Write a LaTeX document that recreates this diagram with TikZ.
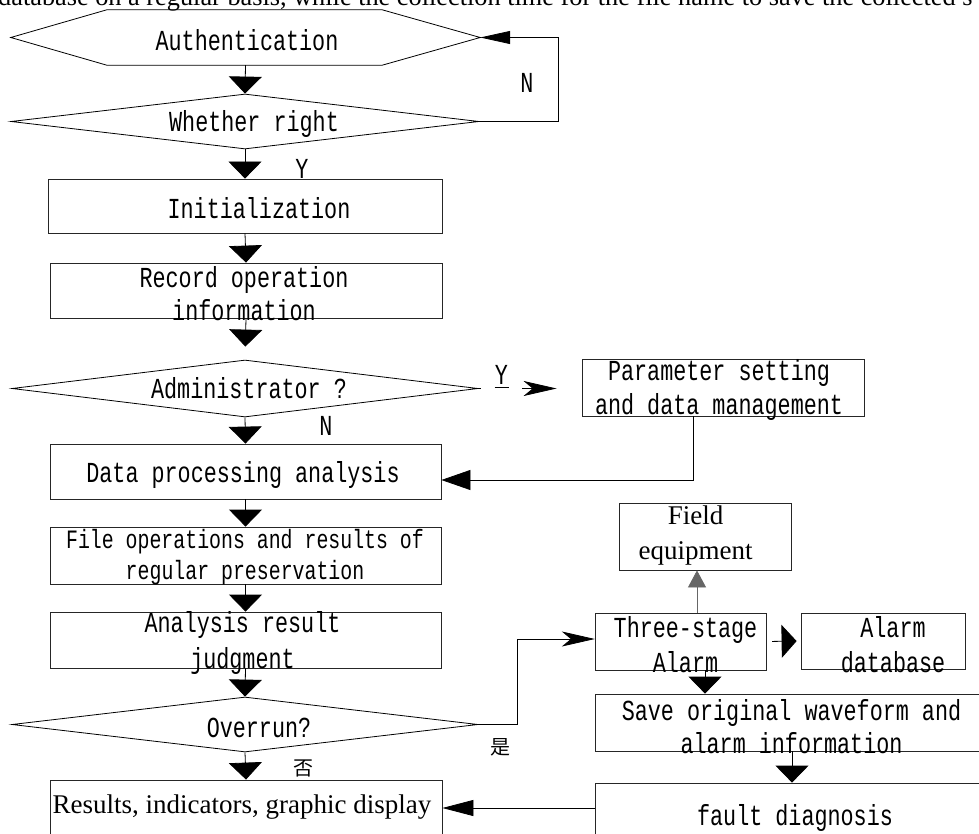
\documentclass[tikz,border=0pt]{standalone}
\usepackage{fontspec}
\setmainfont{Liberation Serif}
\newfontfamily\monof[FakeStretch=0.75]{Liberation Mono}
\newfontfamily\cjkf{Noto Sans CJK SC}
\usetikzlibrary{arrows.meta,shapes.geometric}
\begin{document}
\begin{tikzpicture}[x=1pt,y=-1pt,
  boxs/.style={draw=black!85, line width=0.8pt, rectangle, inner sep=0pt},
  decision/.style={draw=black, line width=0.8pt, diamond, inner sep=0pt},
  mtxt/.style={font=\monof\fontsize{29}{34}\selectfont, align=center, inner sep=0pt},
  stxt/.style={font=\fontsize{27}{35}\selectfont, align=center, inner sep=0pt},
  ctxt/.style={font=\cjkf\fontsize{20}{22}\selectfont, inner sep=0pt},
  conn/.style={line width=0.8pt, draw=black},
  wide/.style={conn, -{Triangle[length=17pt,width=33pt]}},
  loopar/.style={conn, -{Triangle[length=30pt,width=13pt]}},
  backar/.style={conn, -{Triangle[length=29pt,width=20pt]}},
  resar/.style={conn, -{Triangle[length=31pt,width=16pt]}},
  stl/.style={conn, -{Stealth[length=33pt,width=15pt,inset=9pt]}},
  upar/.style={line width=0.8pt, draw=black!60, -{Triangle[length=17pt,width=18pt]}},
  sidear/.style={conn, -{Triangle[length=15pt,width=33pt]}}
]
\useasboundingbox (0,0) rectangle (979,834);
\clip (0,0) rectangle (979,834);

% cropped caption line at the top
\node[font=\fontsize{26.3}{30}\selectfont, anchor=base west, inner sep=0pt] (cap) at (-2,6)
  {database on a regular basis, while the collection time for the file name to save the collected s};

% hexagon
\node[rectangle, inner sep=0pt, minimum width=469pt, minimum height=55pt] (auth) at (245.5,37.5) {};
\draw[conn] (auth.west) -- ([shift={(96,0)}]auth.north west) -- ([shift={(-98,0)}]auth.north east)
  -- (auth.east) -- ([shift={(-98,0)}]auth.south east) -- ([shift={(96,0)}]auth.south west) -- cycle;
\node[mtxt] (auth-t) at (247,40) {Authentication};

% decisions
\node[decision, minimum width=468pt, minimum height=55pt] (wr) at (245,121.5) {};
\node[mtxt] (wr-t) at (254,124) {Whether right};
\node[decision, minimum width=466pt, minimum height=57pt] (adm) at (245,388.5) {};
\node[mtxt] (adm-t) at (249,388) {Administrator ?};
\node[decision, minimum width=466pt, minimum height=55pt] (ovr) at (245,724.5) {};
\node[mtxt] (ovr-t) at (259,728) {Overrun?};

% left column boxes
\node[boxs, minimum width=394pt, minimum height=54pt] (init) at (245,206) {};
\node[mtxt] (init-t) at (259,208) {Initialization};
\node[boxs, minimum width=392pt, minimum height=55pt] (rec) at (246,290.5) {};
\node[mtxt, font=\monof\fontsize{29}{33}\selectfont] (rec-t) at (244,293.5) {Record operation\\information};
\node[boxs, minimum width=391pt, minimum height=55pt] (data) at (245.5,471.5) {};
\node[mtxt] (data-t) at (243,475) {Data processing analysis};
\node[boxs, minimum width=391pt, minimum height=57pt] (file) at (245.5,555.5) {};
\node[mtxt, font=\monof\fontsize{26.5}{31}\selectfont] (file-t) at (245,557.5) {File operations and results of\\regular preservation};
\node[boxs, minimum width=391pt, minimum height=56pt] (ana) at (245.5,640) {};
\node[mtxt, font=\monof\fontsize{29}{36}\selectfont] (ana-t) at (242.5,643) {Analysis result\\judgment};
\node[boxs, minimum width=392pt, minimum height=90pt] (res) at (246,825) {};
\node[stxt] (res-t) at (242,807) {Results, indicators, graphic display};

% right side boxes
\node[boxs, minimum width=282pt, minimum height=57pt] (par) at (723,387.5) {};
\node[mtxt] (par-t) at (719,390) {Parameter setting\\and data management};
\node[boxs, minimum width=172pt, minimum height=67pt] (field) at (705,536.5) {};
\node[stxt] (field-t) at (695.5,535.5) {Field\\equipment};
\node[boxs, minimum width=171.5pt, minimum height=57pt] (three) at (681,641.5) {};
\node[mtxt, font=\monof\fontsize{29}{35}\selectfont] (three-t) at (685.5,644.5) {Three-stage\\Alarm};
\node[boxs, minimum width=164pt, minimum height=56pt] (adb) at (883,641) {};
\node[mtxt, font=\monof\fontsize{29}{35}\selectfont] (adb-t) at (893,644.5) {Alarm\\database};
\node[boxs, minimum width=405pt, minimum height=57pt] (save) at (797.5,722.5) {};
\node[mtxt, font=\monof\fontsize{29}{33}\selectfont] (save-t) at (791.5,726.5) {Save original waveform and\\alarm information};
\node[boxs, minimum width=405pt, minimum height=97pt] (fault) at (797.5,831.5) {};
\node[mtxt] (fault-t) at (795,818) {fault diagnosis};

% helper coordinates
\coordinate (loopx) at (558,0);
\coordinate (turnx) at (517,0);
\coordinate (ytip) at ([shift={(-25,0)}]par.west);

% main column connectors
\draw[wide] (auth.south) -- (wr.north);
\draw[wide] (wr.south) -- (init.north);
\draw[wide] (init.south) -- (rec.north);
\draw[wide, shorten >=13pt] (rec.south) -- (adm.north);
\draw[wide] (adm.south) -- (data.north);
\draw[wide] (data.south) -- (file.north);
\draw[wide] (file.south) -- (ana.north);
\draw[wide] (ana.south) -- (ovr.north);
\draw[wide] (ovr.south) -- (res.north);

% N loop
\draw[loopar] (wr.east) -- (wr.east -| loopx) |- (auth.east);

% administrator yes branch
\draw[stl] (adm.east) -- (adm.east -| ytip);
\node[mtxt, fill=white, minimum width=41pt, minimum height=30pt] (ylab) at (501.5,375) {Y};
\draw[conn] ([shift={(-7,12)}]ylab.center) -- ([shift={(7,12)}]ylab.center);

% back to data processing
\draw[backar] ([shift={(-30,0)}]par.south) |- ([shift={(0,8.5)}]data.east);

% overrun yes branch
\draw[stl] (ovr.east) -- (ovr.east -| turnx) |- ([shift={(0,-2.5)}]three.west);
\draw[upar] ([shift={(16,0)}]three.north) -- ([shift={(16,0)}]three.north |- field.south);
\draw[sidear, shorten <=5pt, shorten >=4pt] (three.east) -- (adb.west);
\draw[wide] ([shift={(24,0)}]three.south) -- ([shift={(24,0)}]three.south |- save.north);
\draw[wide] ([shift={(-5.5,0)}]save.south) -- ([shift={(-5.5,0)}]save.south |- fault.north);
\draw[resar] ([shift={(0,-23.5)}]fault.west) -- ([shift={(0,-23.5)}]fault.west -| res.east);

% labels
\node[mtxt] (nlab1) at (527,83) {N};
\node[mtxt] (ylab2) at (302,169) {Y};
\node[mtxt] (nlab2) at (326,426) {N};
\node[ctxt] (yes) at (500,747) {是};
\node[ctxt] (no) at (303,768) {否};
\end{tikzpicture}
\end{document}
